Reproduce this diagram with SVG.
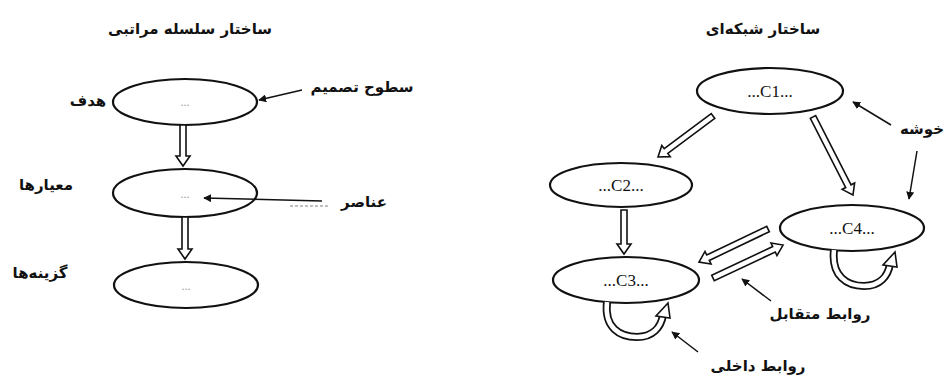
<svg xmlns="http://www.w3.org/2000/svg" width="946" height="376" viewBox="0 0 946 376">
<style>
.node ellipse{fill:#fff;stroke:#111;stroke-width:2.2}
.lbl{font-family:"DejaVu Sans",sans-serif;font-weight:bold;font-size:15px;fill:#111;text-anchor:middle}
.cl{font-family:"Liberation Serif",serif;font-size:17px;fill:#111;text-anchor:middle}
.dots{font-family:"Liberation Serif",serif;font-size:12px;fill:#999;text-anchor:middle}
.blk{fill:#fff;stroke:#111;stroke-width:1.6;stroke-linejoin:miter}
.thin{stroke:#111;stroke-width:1.5;fill:none;marker-end:url(#ah)}
.loopo{fill:none;stroke:#111;stroke-width:8}
.loopi{fill:none;stroke:#fff;stroke-width:4.5}
</style>
<defs>
<marker id="ah" viewBox="0 0 10 10" refX="9" refY="5" markerWidth="8" markerHeight="8" orient="auto" markerUnits="userSpaceOnUse">
<path d="M0,0 L10,5 L0,10 Z" fill="#111"/>
</marker>
</defs>
<rect width="946" height="376" fill="#fff"/>

<text class="lbl" x="190" y="34">ساختار سلسله مراتبی</text>
<text class="lbl" x="763" y="34">ساختار شبکه‌ای</text>

<g id="goal" class="node"><ellipse cx="185" cy="102" rx="72" ry="23"/><text class="dots" x="185" y="106">...</text></g>
<g id="criteria" class="node"><ellipse cx="185" cy="193" rx="72" ry="24"/><text class="dots" x="185" y="198">...</text></g>
<g id="alternatives" class="node"><ellipse cx="186" cy="285" rx="72" ry="23"/><text class="dots" x="186" y="290">...</text></g>

<g id="lbl-goal"><text class="lbl" x="88" y="106">هدف</text></g>
<g id="lbl-criteria"><text class="lbl" x="46" y="190">معیارها</text></g>
<g id="lbl-alts"><text class="lbl" x="40" y="278">گزینه‌ها</text></g>
<g id="lbl-levels"><text class="lbl" x="362" y="92">سطوح تصمیم</text></g>
<g id="lbl-elements"><text class="lbl" x="364" y="207">عناصر</text></g>

<g id="C1" class="node"><ellipse cx="770" cy="91" rx="73" ry="23"/><text class="cl" x="770" y="97">...C1...</text></g>
<g id="C2" class="node"><ellipse cx="621" cy="185" rx="71" ry="22"/><text class="cl" x="621" y="191">...C2...</text></g>
<g id="C3" class="node"><ellipse cx="626" cy="280" rx="73" ry="23"/><text class="cl" x="626" y="286">...C3...</text></g>
<g id="C4" class="node"><ellipse cx="852" cy="228" rx="72" ry="23"/><text class="cl" x="852" y="234">...C4...</text></g>

<g id="lbl-cluster"><text class="lbl" x="944" y="134" style="text-anchor:end">خوشه</text></g>
<g id="lbl-mutual"><text class="lbl" x="820" y="319">روابط متقابل</text></g>
<g id="lbl-inner"><text class="lbl" x="758" y="371">روابط داخلی</text></g>

<g id="connectors">
<g transform="translate(183,125) rotate(90)"><path class="blk" d="M0,-3 L31,-3 L31,-7 L41,0 L31,7 L31,3 L0,3 Z"/></g>
<g transform="translate(185,217) rotate(90)"><path class="blk" d="M0,-3 L32,-3 L32,-7 L42,0 L32,7 L32,3 L0,3 Z"/></g>
<g transform="translate(713,116) rotate(143.3)"><path class="blk" d="M0,-3 L58.6,-3 L58.6,-7 L68.6,0 L58.6,7 L58.6,3 L0,3 Z"/></g>
<g transform="translate(813,117) rotate(62.9)"><path class="blk" d="M0,-3 L77.7,-3 L77.7,-7 L87.7,0 L77.7,7 L77.7,3 L0,3 Z"/></g>
<g transform="translate(624,210) rotate(90)"><path class="blk" d="M0,-3 L34,-3 L34,-7 L44,0 L34,7 L34,3 L0,3 Z"/></g>
<g transform="translate(768,229) rotate(154.4)"><path class="blk" d="M0,-3 L66.5,-3 L66.5,-7 L76.5,0 L66.5,7 L66.5,3 L0,3 Z"/></g>
<g transform="translate(713,278) rotate(-25.2)"><path class="blk" d="M0,-3 L67.4,-3 L67.4,-7 L77.4,0 L67.4,7 L67.4,3 L0,3 Z"/></g>

<path class="loopo" d="M607,302 C604,328 620,337 637,337 C653,337 661,327 663,315"/>
<path class="loopi" d="M607,302 C604,328 620,337 637,337 C653,337 661,327 663,315"/>
<path class="blk" d="M656,316 L670,318 L668,303 Z"/>
<path class="loopo" d="M834,250 C831,276 847,286 864,286 C880,286 888,276 890,264"/>
<path class="loopi" d="M834,250 C831,276 847,286 864,286 C880,286 888,276 890,264"/>
<path class="blk" d="M883,265 L897,267 L895,252 Z"/>

<line class="thin" x1="302" y1="90" x2="259" y2="100"/>
<line class="thin" x1="322" y1="201" x2="204" y2="198"/>
<line x1="290" y1="206" x2="330" y2="206" stroke="#aaa" stroke-width="1.5" stroke-dasharray="3,2"/>
<line class="thin" x1="891" y1="125" x2="853" y2="102"/>
<line class="thin" x1="917" y1="151" x2="909" y2="199"/>
<line class="thin" x1="771" y1="301" x2="742" y2="279"/>
<line class="thin" x1="698" y1="352" x2="672" y2="332"/>
</g>
</svg>
